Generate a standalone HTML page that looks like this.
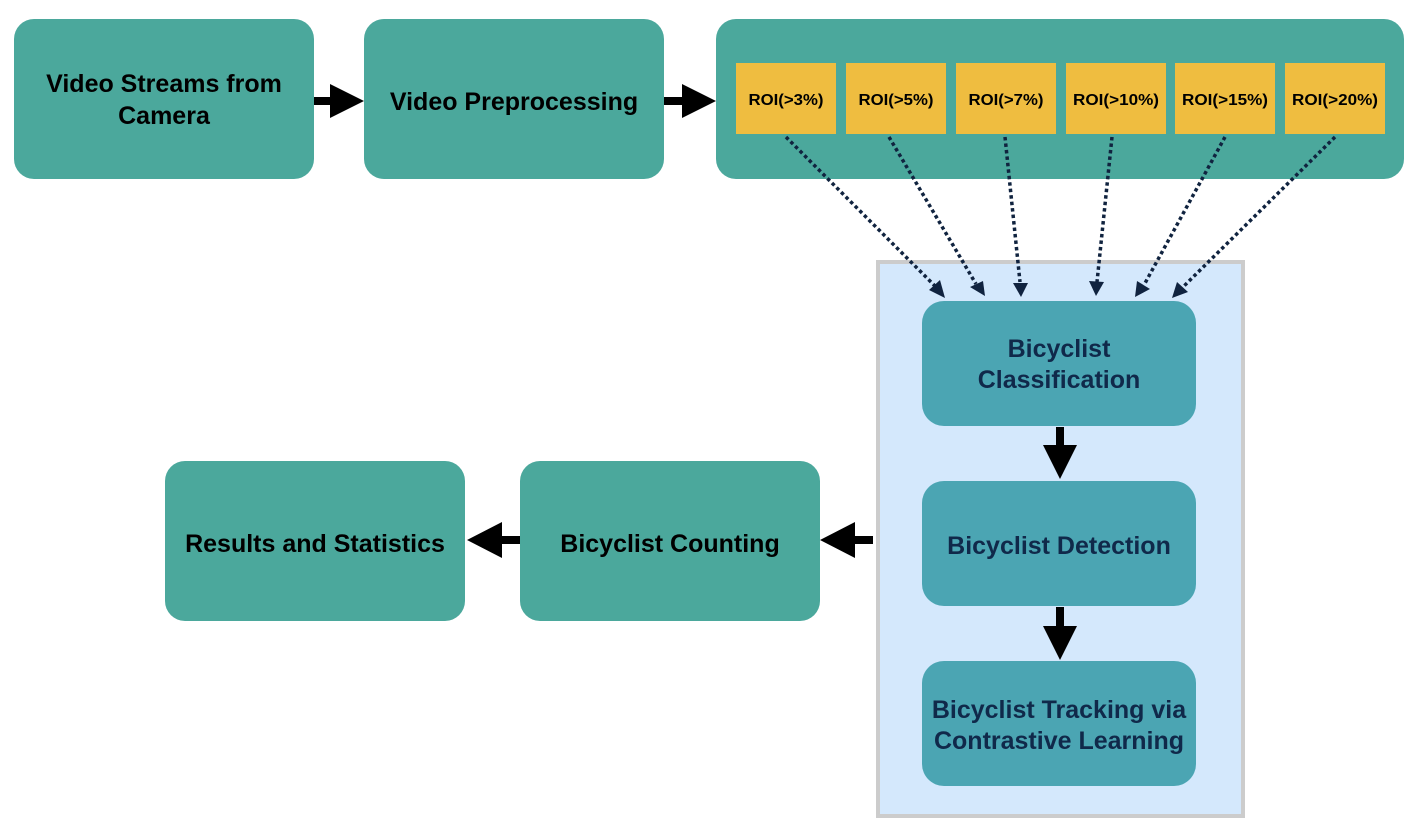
<!DOCTYPE html>
<html><head><style>body{margin:0;background:#fff}svg{display:block}text{font-family:"Liberation Sans",sans-serif;font-weight:bold}</style></head>
<body>
<svg width="1420" height="832" viewBox="0 0 1420 832">
<rect x="14" y="19" width="300" height="160" rx="20" fill="#4ba89c"/>
<rect x="364" y="19" width="300" height="160" rx="20" fill="#4ba89c"/>
<rect x="716" y="19" width="688" height="160" rx="20" fill="#4ba89c"/>
<text x="164" y="92" font-size="25" text-anchor="middle">Video Streams from</text>
<text x="164" y="124" font-size="25" text-anchor="middle">Camera</text>
<text x="514" y="110" font-size="25" text-anchor="middle">Video Preprocessing</text>
<g fill="#efbd40">
<rect x="736" y="63" width="100" height="71"/><rect x="846" y="63" width="100" height="71"/><rect x="956" y="63" width="100" height="71"/><rect x="1066" y="63" width="100" height="71"/><rect x="1175" y="63" width="100" height="71"/><rect x="1285" y="63" width="100" height="71"/>
</g>
<g font-size="16" text-anchor="middle" fill="#000" font-weight="normal">
<text x="786" y="105" textLength="75" lengthAdjust="spacingAndGlyphs">ROI(&gt;3%)</text><text x="896" y="105" textLength="75" lengthAdjust="spacingAndGlyphs">ROI(&gt;5%)</text><text x="1006" y="105" textLength="75" lengthAdjust="spacingAndGlyphs">ROI(&gt;7%)</text><text x="1116" y="105" textLength="86" lengthAdjust="spacingAndGlyphs">ROI(&gt;10%)</text><text x="1225" y="105" textLength="86" lengthAdjust="spacingAndGlyphs">ROI(&gt;15%)</text><text x="1335" y="105" textLength="86" lengthAdjust="spacingAndGlyphs">ROI(&gt;20%)</text>
</g>
<rect x="878" y="262" width="365" height="554" fill="#d4e8fc" stroke="#cccccc" stroke-width="4"/>
<g fill="#4ba5b3">
<rect x="922" y="301" width="274" height="125" rx="22"/>
<rect x="922" y="481" width="274" height="125" rx="22"/>
<rect x="922" y="661" width="274" height="125" rx="22"/>
</g>
<g font-size="25" text-anchor="middle" fill="#10294a">
<text x="1059" y="357">Bicyclist</text><text x="1059" y="388">Classification</text>
<text x="1059" y="554">Bicyclist Detection</text>
<text x="1059" y="718">Bicyclist Tracking via</text><text x="1059" y="749">Contrastive Learning</text>
</g>
<rect x="165" y="461" width="300" height="160" rx="20" fill="#4ba89c"/>
<rect x="520" y="461" width="300" height="160" rx="20" fill="#4ba89c"/>
<text x="315" y="552" font-size="25" text-anchor="middle">Results and Statistics</text>
<text x="670" y="552" font-size="25" text-anchor="middle">Bicyclist Counting</text>
<g fill="#000">
<path d="M314,97 H330 V84 L364,101 L330,118 V105 H314 Z"/>
<path d="M664,97 H682 V84 L716,101 L682,118 V105 H664 Z"/>
<path d="M873,536 H855 V522 L820,540 L855,558 V544 H873 Z"/>
<path d="M520,536 H502 V522 L467,540 L502,558 V544 H520 Z"/>
<path d="M1056,427 V445 H1043 L1060,479 L1077,445 H1064 V427 Z"/>
<path d="M1056,607 V626 H1043 L1060,660 L1077,626 H1064 V607 Z"/>
</g>
<g stroke="#10233f" stroke-width="3.5" stroke-dasharray="3.5,3" fill="none">
<line x1="786" y1="137" x2="936" y2="287"/>
<line x1="889" y1="137" x2="976" y2="284"/>
<line x1="1005" y1="137" x2="1020" y2="282"/>
<line x1="1112" y1="137" x2="1097" y2="282"/>
<line x1="1225" y1="137" x2="1144" y2="285"/>
<line x1="1335" y1="137" x2="1183" y2="287"/>
</g>
<g fill="#10233f">
<path d="M945,298 L929,290 L940,280 Z"/>
<path d="M985,296 L970,287 L983,281 Z"/>
<path d="M1021,297 L1013,283 L1028,283 Z"/>
<path d="M1096,296 L1089,281 L1104,282 Z"/>
<path d="M1135,297 L1137,281 L1150,289 Z"/>
<path d="M1172,298 L1177,282 L1188,292 Z"/>
</g>
</svg>
</body></html>
